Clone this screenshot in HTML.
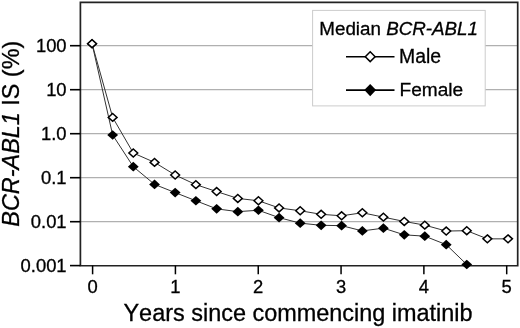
<!DOCTYPE html>
<html><head><meta charset="utf-8"><style>html,body{margin:0;padding:0;background:#fff;width:520px;height:328px;overflow:hidden}svg{display:block}text{font-kerning:none}</style></head>
<body>
<svg width="520" height="328" viewBox="0 0 520 328">
<rect width="520" height="328" fill="#fff"/>
<line x1="80" y1="45.70" x2="517" y2="45.70" stroke="#b0b0b0" stroke-width="1.3"/>
<line x1="80" y1="89.70" x2="517" y2="89.70" stroke="#b0b0b0" stroke-width="1.3"/>
<line x1="80" y1="133.70" x2="517" y2="133.70" stroke="#b0b0b0" stroke-width="1.3"/>
<line x1="80" y1="177.70" x2="517" y2="177.70" stroke="#b0b0b0" stroke-width="1.3"/>
<line x1="80" y1="221.70" x2="517" y2="221.70" stroke="#b0b0b0" stroke-width="1.3"/>
<rect x="312.6" y="10.4" width="172.6" height="95.5" fill="#fff" stroke="#cccccc" stroke-width="1"/>
<path d="M80.4,2.4 H517.7 V265.75 H80.4 Z" fill="none" stroke="#222" stroke-width="1.7"/>
<line x1="70" y1="45.70" x2="80.4" y2="45.70" stroke="#000" stroke-width="1.6"/>
<line x1="70" y1="89.70" x2="80.4" y2="89.70" stroke="#000" stroke-width="1.6"/>
<line x1="70" y1="133.70" x2="80.4" y2="133.70" stroke="#000" stroke-width="1.6"/>
<line x1="70" y1="177.70" x2="80.4" y2="177.70" stroke="#000" stroke-width="1.6"/>
<line x1="70" y1="221.70" x2="80.4" y2="221.70" stroke="#000" stroke-width="1.6"/>
<line x1="70" y1="265.60" x2="80.4" y2="265.60" stroke="#000" stroke-width="1.6"/>
<line x1="92.60" y1="265.6" x2="92.60" y2="274.3" stroke="#000" stroke-width="1.5"/>
<line x1="175.42" y1="265.6" x2="175.42" y2="274.3" stroke="#000" stroke-width="1.5"/>
<line x1="258.24" y1="265.6" x2="258.24" y2="274.3" stroke="#000" stroke-width="1.5"/>
<line x1="341.06" y1="265.6" x2="341.06" y2="274.3" stroke="#000" stroke-width="1.5"/>
<line x1="423.88" y1="265.6" x2="423.88" y2="274.3" stroke="#000" stroke-width="1.5"/>
<line x1="506.70" y1="265.6" x2="506.70" y2="274.3" stroke="#000" stroke-width="1.5"/>
<polyline points="92.05,43.70 112.66,135.00 133.29,166.70 154.55,184.40 175.16,192.60 195.89,200.75 216.65,208.85 237.81,211.65 258.44,210.25 279.08,217.65 300.19,223.15 321.15,225.30 341.61,225.65 362.36,230.90 383.40,228.15 404.28,234.85 424.79,236.15 446.22,244.65 466.76,264.50" fill="none" stroke="#333" stroke-width="1"/>
<polyline points="92.05,43.70 112.66,117.40 133.29,153.00 154.55,162.40 175.16,175.00 195.89,184.65 216.65,191.55 237.81,198.45 258.44,200.75 279.08,207.95 300.19,210.75 321.15,214.30 341.61,215.80 362.36,212.75 383.40,217.15 404.28,221.45 424.79,225.15 446.22,231.05 466.76,230.70 487.37,238.85 508.02,238.85" fill="none" stroke="#333" stroke-width="1"/>
<path d="M92.05,38.85 L97.45,43.70 L92.05,48.55 L86.65,43.70 Z" fill="#000"/>
<path d="M112.66,130.15 L118.06,135.00 L112.66,139.85 L107.26,135.00 Z" fill="#000"/>
<path d="M133.29,161.85 L138.69,166.70 L133.29,171.55 L127.89,166.70 Z" fill="#000"/>
<path d="M154.55,179.55 L159.95,184.40 L154.55,189.25 L149.15,184.40 Z" fill="#000"/>
<path d="M175.16,187.75 L180.56,192.60 L175.16,197.45 L169.76,192.60 Z" fill="#000"/>
<path d="M195.89,195.90 L201.29,200.75 L195.89,205.60 L190.49,200.75 Z" fill="#000"/>
<path d="M216.65,204.00 L222.05,208.85 L216.65,213.70 L211.25,208.85 Z" fill="#000"/>
<path d="M237.81,206.80 L243.21,211.65 L237.81,216.50 L232.41,211.65 Z" fill="#000"/>
<path d="M258.44,205.40 L263.84,210.25 L258.44,215.10 L253.04,210.25 Z" fill="#000"/>
<path d="M279.08,212.80 L284.48,217.65 L279.08,222.50 L273.68,217.65 Z" fill="#000"/>
<path d="M300.19,218.30 L305.59,223.15 L300.19,228.00 L294.79,223.15 Z" fill="#000"/>
<path d="M321.15,220.45 L326.55,225.30 L321.15,230.15 L315.75,225.30 Z" fill="#000"/>
<path d="M341.61,220.80 L347.00,225.65 L341.61,230.50 L336.21,225.65 Z" fill="#000"/>
<path d="M362.36,226.05 L367.76,230.90 L362.36,235.75 L356.96,230.90 Z" fill="#000"/>
<path d="M383.40,223.30 L388.80,228.15 L383.40,233.00 L378.00,228.15 Z" fill="#000"/>
<path d="M404.28,230.00 L409.68,234.85 L404.28,239.70 L398.88,234.85 Z" fill="#000"/>
<path d="M424.79,231.30 L430.19,236.15 L424.79,241.00 L419.39,236.15 Z" fill="#000"/>
<path d="M446.22,239.80 L451.62,244.65 L446.22,249.50 L440.82,244.65 Z" fill="#000"/>
<path d="M466.76,259.65 L472.16,264.50 L466.76,269.35 L461.36,264.50 Z" fill="#000"/>
<path d="M92.05,39.75 L96.45,43.70 L92.05,47.65 L87.65,43.70 Z" fill="#fff" stroke="#000" stroke-width="1.5"/>
<path d="M112.66,113.45 L117.06,117.40 L112.66,121.35 L108.26,117.40 Z" fill="#fff" stroke="#000" stroke-width="1.5"/>
<path d="M133.29,149.05 L137.69,153.00 L133.29,156.95 L128.89,153.00 Z" fill="#fff" stroke="#000" stroke-width="1.5"/>
<path d="M154.55,158.45 L158.95,162.40 L154.55,166.35 L150.15,162.40 Z" fill="#fff" stroke="#000" stroke-width="1.5"/>
<path d="M175.16,171.05 L179.56,175.00 L175.16,178.95 L170.76,175.00 Z" fill="#fff" stroke="#000" stroke-width="1.5"/>
<path d="M195.89,180.70 L200.29,184.65 L195.89,188.60 L191.49,184.65 Z" fill="#fff" stroke="#000" stroke-width="1.5"/>
<path d="M216.65,187.60 L221.05,191.55 L216.65,195.50 L212.25,191.55 Z" fill="#fff" stroke="#000" stroke-width="1.5"/>
<path d="M237.81,194.50 L242.21,198.45 L237.81,202.40 L233.41,198.45 Z" fill="#fff" stroke="#000" stroke-width="1.5"/>
<path d="M258.44,196.80 L262.84,200.75 L258.44,204.70 L254.04,200.75 Z" fill="#fff" stroke="#000" stroke-width="1.5"/>
<path d="M279.08,204.00 L283.48,207.95 L279.08,211.90 L274.68,207.95 Z" fill="#fff" stroke="#000" stroke-width="1.5"/>
<path d="M300.19,206.80 L304.59,210.75 L300.19,214.70 L295.79,210.75 Z" fill="#fff" stroke="#000" stroke-width="1.5"/>
<path d="M321.15,210.35 L325.55,214.30 L321.15,218.25 L316.75,214.30 Z" fill="#fff" stroke="#000" stroke-width="1.5"/>
<path d="M341.61,211.85 L346.00,215.80 L341.61,219.75 L337.21,215.80 Z" fill="#fff" stroke="#000" stroke-width="1.5"/>
<path d="M362.36,208.80 L366.76,212.75 L362.36,216.70 L357.96,212.75 Z" fill="#fff" stroke="#000" stroke-width="1.5"/>
<path d="M383.40,213.20 L387.80,217.15 L383.40,221.10 L379.00,217.15 Z" fill="#fff" stroke="#000" stroke-width="1.5"/>
<path d="M404.28,217.50 L408.68,221.45 L404.28,225.40 L399.88,221.45 Z" fill="#fff" stroke="#000" stroke-width="1.5"/>
<path d="M424.79,221.20 L429.19,225.15 L424.79,229.10 L420.39,225.15 Z" fill="#fff" stroke="#000" stroke-width="1.5"/>
<path d="M446.22,227.10 L450.62,231.05 L446.22,235.00 L441.82,231.05 Z" fill="#fff" stroke="#000" stroke-width="1.5"/>
<path d="M466.76,226.75 L471.16,230.70 L466.76,234.65 L462.36,230.70 Z" fill="#fff" stroke="#000" stroke-width="1.5"/>
<path d="M487.37,234.90 L491.77,238.85 L487.37,242.80 L482.97,238.85 Z" fill="#fff" stroke="#000" stroke-width="1.5"/>
<path d="M508.02,234.90 L512.42,238.85 L508.02,242.80 L503.62,238.85 Z" fill="#fff" stroke="#000" stroke-width="1.5"/>
<line x1="346" y1="56.7" x2="394.5" y2="56.7" stroke="#000" stroke-width="1.6"/>
<path d="M370.20,51.80 L375.10,56.70 L370.20,61.60 L365.30,56.70 Z" fill="#fff" stroke="#000" stroke-width="1.5"/>
<line x1="346" y1="90.1" x2="394.5" y2="90.1" stroke="#000" stroke-width="1.6"/>
<path d="M370.20,84.00 L376.10,90.10 L370.20,96.20 L364.30,90.10 Z" fill="#000"/>
<text x="319.3" y="34.6" font-family="Liberation Sans, Arial, sans-serif" stroke="#000" stroke-width="0.3" font-size="18.8" fill="#000">Median <tspan font-style="italic">BCR-ABL1</tspan></text>
<text x="399" y="62.8" font-family="Liberation Sans, Arial, sans-serif" stroke="#000" stroke-width="0.3" font-size="19.4" fill="#000">Male</text>
<text x="399.5" y="96.1" font-family="Liberation Sans, Arial, sans-serif" stroke="#000" stroke-width="0.3" font-size="19.1" fill="#000">Female</text>
<text x="66.6" y="52.15" font-family="Liberation Sans, Arial, sans-serif" stroke="#000" stroke-width="0.3" font-size="18.4" text-anchor="end" fill="#000">100</text>
<text x="66.6" y="96.15" font-family="Liberation Sans, Arial, sans-serif" stroke="#000" stroke-width="0.3" font-size="18.4" text-anchor="end" fill="#000">10</text>
<text x="66.6" y="140.15" font-family="Liberation Sans, Arial, sans-serif" stroke="#000" stroke-width="0.3" font-size="18.4" text-anchor="end" fill="#000">1.0</text>
<text x="66.6" y="184.15" font-family="Liberation Sans, Arial, sans-serif" stroke="#000" stroke-width="0.3" font-size="18.4" text-anchor="end" fill="#000">0.1</text>
<text x="66.6" y="228.15" font-family="Liberation Sans, Arial, sans-serif" stroke="#000" stroke-width="0.3" font-size="18.4" text-anchor="end" fill="#000">0.01</text>
<text x="66.6" y="272.05" font-family="Liberation Sans, Arial, sans-serif" stroke="#000" stroke-width="0.3" font-size="18.4" text-anchor="end" fill="#000">0.001</text>
<text x="92.60" y="293.4" font-family="Liberation Sans, Arial, sans-serif" stroke="#000" stroke-width="0.3" font-size="18.4" text-anchor="middle" fill="#000">0</text>
<text x="175.42" y="293.4" font-family="Liberation Sans, Arial, sans-serif" stroke="#000" stroke-width="0.3" font-size="18.4" text-anchor="middle" fill="#000">1</text>
<text x="258.24" y="293.4" font-family="Liberation Sans, Arial, sans-serif" stroke="#000" stroke-width="0.3" font-size="18.4" text-anchor="middle" fill="#000">2</text>
<text x="341.06" y="293.4" font-family="Liberation Sans, Arial, sans-serif" stroke="#000" stroke-width="0.3" font-size="18.4" text-anchor="middle" fill="#000">3</text>
<text x="423.88" y="293.4" font-family="Liberation Sans, Arial, sans-serif" stroke="#000" stroke-width="0.3" font-size="18.4" text-anchor="middle" fill="#000">4</text>
<text x="506.70" y="293.4" font-family="Liberation Sans, Arial, sans-serif" stroke="#000" stroke-width="0.3" font-size="18.4" text-anchor="middle" fill="#000">5</text>
<text x="298.05" y="321.2" font-family="Liberation Sans, Arial, sans-serif" stroke="#000" stroke-width="0.3" font-size="23.45" text-anchor="middle" fill="#000">Years since commencing imatinib</text>
<text transform="translate(18.9,133.7) rotate(-90)" font-family="Liberation Sans, Arial, sans-serif" stroke="#000" stroke-width="0.3" font-size="23.4" text-anchor="middle" fill="#000"><tspan font-style="italic">BCR-ABL1</tspan> IS (%)</text>
</svg>
</body></html>
